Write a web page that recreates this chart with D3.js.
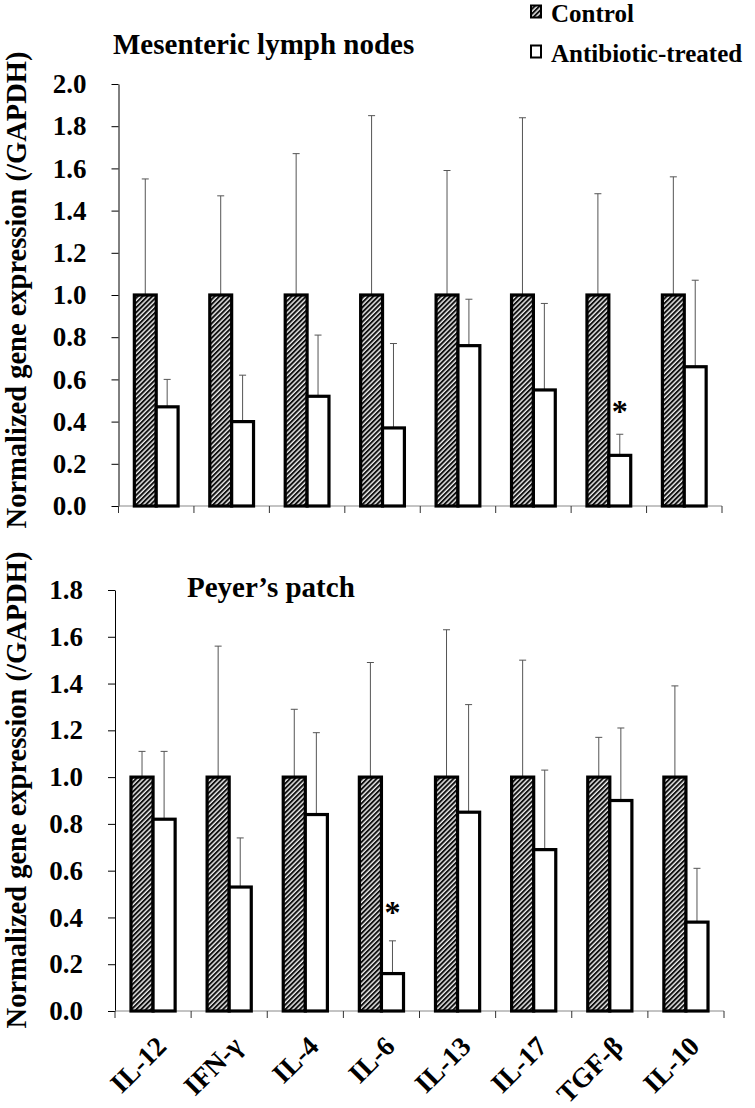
<!DOCTYPE html>
<html>
<head>
<meta charset="utf-8">
<script src="https://cdn.jsdelivr.net/npm/d3@7"></script>
<style>
  body { margin: 0; background: #fff; }
  text { font-family: "Liberation Serif", "Times New Roman", serif; font-weight: bold; }
</style>
</head>
<body>
<script>
const svgWidth = 755
const svgHeight = 1108

const categories = ["IL-12", "IFN-γ", "IL-4", "IL-6", "IL-13", "IL-17", "TGF-β", "IL-10"]
const seriesNames = ["Control", "Antibiotic-treated"]

// Mesenteric lymph nodes
const mlnControl = [1, 1, 1, 1, 1, 1, 1, 1]
const mlnControlErr = [0.55, 0.47, 0.67, 0.85, 0.59, 0.84, 0.48, 0.56]
const mlnTreated = [0.47, 0.40, 0.52, 0.37, 0.76, 0.55, 0.24, 0.66]
const mlnTreatedErr = [0.13, 0.22, 0.29, 0.40, 0.22, 0.41, 0.10, 0.41]
const mlnStar = [null, null, null, null, null, null, 0.47, null]
const mlnTicks = [0, 0.2, 0.4, 0.6, 0.8, 1.0, 1.2, 1.4, 1.6, 1.8, 2.0]

// Peyer's patch
const ppControl = [1, 1, 1, 1, 1, 1, 1, 1]
const ppControlErr = [0.11, 0.56, 0.29, 0.49, 0.63, 0.50, 0.17, 0.39]
const ppTreated = [0.82, 0.53, 0.84, 0.16, 0.85, 0.69, 0.90, 0.38]
const ppTreatedErr = [0.29, 0.21, 0.35, 0.14, 0.46, 0.34, 0.31, 0.23]
const ppStar = [null, null, null, 0.44, null, null, null, null]
const ppTicks = [0, 0.2, 0.4, 0.6, 0.8, 1.0, 1.2, 1.4, 1.6, 1.8]

const yTitle = "Normalized gene expression (/GAPDH)"

const svg = d3.select("body").append("svg")
  .attr("width", svgWidth)
  .attr("height", svgHeight)

// diagonal hatch for control bars
const defs = svg.append("defs")
defs.append("pattern")
  .attr("id", "hatch")
  .attr("patternUnits", "userSpaceOnUse")
  .attr("width", 3.4)
  .attr("height", 3.4)
  .attr("patternTransform", "rotate(45)")
  .call(p => {
    p.append("rect").attr("width", 3.4).attr("height", 3.4).attr("fill", "#f0f0f0")
    p.append("line").attr("x1", 1).attr("x2", 1).attr("y1", 0).attr("y2", 3.4)
      .attr("stroke", "#111").attr("stroke-width", 2)
  })

function drawPanel(opts) {
  const { control, controlErr, treated, treatedErr, star, ticks, xRange, yRange, yMax, title, titleX, titleY, yTitleCenter, showLabels } = opts

  const x = d3.scaleBand().domain(categories).range(xRange)
  const xs = d3.scaleBand().domain(seriesNames)
    .range([x.bandwidth() * 0.21, x.bandwidth() * 0.79])
  const y = d3.scaleLinear().domain([0, yMax]).range(yRange)

  const g = svg.append("g")

  // y axis
  const yAxis = d3.axisLeft(y)
    .tickValues(ticks)
    .tickFormat(d3.format(".1f"))
    .tickSize(7)
    .tickSizeOuter(0)
    .tickPadding(25)
  g.append("g")
    .attr("transform", `translate(${xRange[0]}, 0)`)
    .call(yAxis)
    .call(a => a.select(".domain").attr("stroke", "#000"))
    .call(a => a.selectAll("line").attr("stroke", "#000"))
    .call(a => a.selectAll("text")
      .attr("font-size", 27)
      .attr("fill", "#000"))

  // x axis with ticks at band edges
  const xg = g.append("g").attr("transform", `translate(0, ${yRange[0]})`)
  xg.append("line")
    .attr("x1", xRange[0]).attr("x2", xRange[1])
    .attr("stroke", "#888").attr("stroke-width", 1)
  const edges = categories.map(c => x(c)).concat([xRange[1]])
  xg.selectAll("line.tick").data(edges).enter().append("line")
    .attr("class", "tick")
    .attr("x1", d => d).attr("x2", d => d)
    .attr("y1", 0).attr("y2", 7)
    .attr("stroke", "#333")

  const series = [
    { name: "Control", vals: control, errs: controlErr, fill: "url(#hatch)" },
    { name: "Antibiotic-treated", vals: treated, errs: treatedErr, fill: "#fff" }
  ]

  series.forEach(s => {
    const sg = g.append("g")
    // error bars (upper only)
    sg.selectAll("line.err").data(categories).enter().append("line")
      .attr("x1", (c) => x(c) + xs(s.name) + xs.bandwidth() / 2)
      .attr("x2", (c) => x(c) + xs(s.name) + xs.bandwidth() / 2)
      .attr("y1", (c, i) => y(s.vals[i]))
      .attr("y2", (c, i) => y(s.vals[i] + s.errs[i]))
      .attr("stroke", "#555").attr("stroke-width", 1)
    sg.selectAll("line.cap").data(categories).enter().append("line")
      .attr("x1", (c) => x(c) + xs(s.name) + xs.bandwidth() / 2 - 3.5)
      .attr("x2", (c) => x(c) + xs(s.name) + xs.bandwidth() / 2 + 3.5)
      .attr("y1", (c, i) => y(s.vals[i] + s.errs[i]))
      .attr("y2", (c, i) => y(s.vals[i] + s.errs[i]))
      .attr("stroke", "#555").attr("stroke-width", 1)
    sg.selectAll("rect").data(categories).enter().append("rect")
      .attr("x", c => x(c) + xs(s.name))
      .attr("width", xs.bandwidth())
      .attr("y", (c, i) => y(s.vals[i]))
      .attr("height", (c, i) => y(0) - y(s.vals[i]))
      .attr("fill", s.fill)
      .attr("stroke", "#000")
      .attr("stroke-width", 3.2)
  })

  // significance stars
  g.selectAll("text.star").data(categories.filter((c, i) => star[i] != null)).enter()
    .append("text")
    .attr("x", c => x(c) + xs("Antibiotic-treated") + xs.bandwidth() / 2)
    .attr("y", c => y(star[categories.indexOf(c)]) + 15)
    .attr("text-anchor", "middle")
    .attr("font-size", 32)
    .text("*")

  // panel title
  g.append("text")
    .attr("x", titleX).attr("y", titleY)
    .attr("font-size", 29)
    .text(title)

  // y title
  g.append("text")
    .attr("transform", `translate(26, ${yTitleCenter}) rotate(-90)`)
    .attr("text-anchor", "middle")
    .attr("font-size", 28.5)
    .text(yTitle)

  if (showLabels) {
    g.selectAll("text.xlab").data(categories).enter().append("text")
      .attr("transform", c => `translate(${x(c) + x.bandwidth() / 2 + 15}, ${yRange[0] + 37}) rotate(-45)`)
      .attr("text-anchor", "end")
      .attr("font-size", 27.5)
      .text(c => c)
  }
}

drawPanel({
  control: mlnControl, controlErr: mlnControlErr,
  treated: mlnTreated, treatedErr: mlnTreatedErr,
  star: mlnStar, ticks: mlnTicks,
  xRange: [118.5, 722], yRange: [506, 84], yMax: 2.0,
  title: "Mesenteric lymph nodes", titleX: 113, titleY: 54,
  yTitleCenter: 290, showLabels: false
})

drawPanel({
  control: ppControl, controlErr: ppControlErr,
  treated: ppTreated, treatedErr: ppTreatedErr,
  star: ppStar, ticks: ppTicks,
  xRange: [115, 724], yRange: [1011, 590], yMax: 1.8,
  title: "Peyer\u2019s patch", titleX: 187, titleY: 597,
  yTitleCenter: 790, showLabels: true
})

// legend
const legend = svg.append("g").attr("transform", "translate(530, 0)")
seriesNames.forEach((name, i) => {
  const row = legend.append("g").attr("transform", `translate(0, ${i * 40})`)
  row.append("rect")
    .attr("x", 1).attr("y", 5.5)
    .attr("width", 10).attr("height", 12)
    .attr("fill", i === 0 ? "url(#hatch)" : "#fff")
    .attr("stroke", "#000").attr("stroke-width", 2)
  row.append("text")
    .attr("x", 21).attr("y", 22)
    .attr("font-size", 25)
    .text(name)
})
</script>
</body>
</html>
